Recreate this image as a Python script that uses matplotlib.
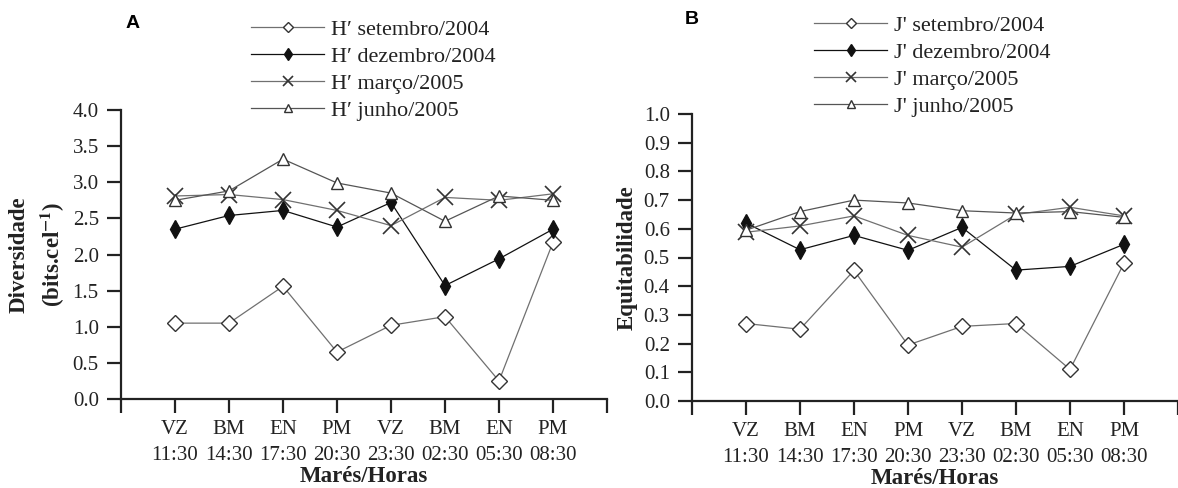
import matplotlib
matplotlib.use("Agg")
import matplotlib.pyplot as plt

plt.rcParams['font.family'] = ['Liberation Serif', 'DejaVu Serif']
plt.rcParams['mathtext.fontset'] = 'stix'

# x categories (tide / hour)
labels = ['VZ\n11:30', 'BM\n14:30', 'EN\n17:30', 'PM\n20:30',
          'VZ\n23:30', 'BM\n02:30', 'EN\n05:30', 'PM\n08:30']

# A - diversity H'
h_set = [1.05, 1.05, 1.56, 0.65, 1.02, 1.14, 0.25, 2.17]
h_dez = [2.35, 2.54, 2.61, 2.38, 2.72, 1.57, 1.94, 2.35]
h_mar = [2.81, 2.83, 2.76, 2.61, 2.40, 2.79, 2.75, 2.84]
h_jun = [2.75, 2.88, 3.32, 2.99, 2.85, 2.46, 2.81, 2.75]

# B - evenness J'
j_set = [0.27, 0.25, 0.455, 0.195, 0.26, 0.27, 0.11, 0.48]
j_dez = [0.62, 0.527, 0.577, 0.525, 0.605, 0.456, 0.469, 0.546]
j_mar = [0.588, 0.61, 0.645, 0.577, 0.536, 0.65, 0.675, 0.645]
j_jun = [0.595, 0.66, 0.70, 0.69, 0.663, 0.655, 0.66, 0.64]

W, H = 1178, 488
fig = plt.figure(figsize=(W / 100, H / 100), dpi=100)

def px_axes(left, right, bottom, top):
    return fig.add_axes([left / W, 1 - bottom / H, (right - left) / W, (bottom - top) / H])

axA = px_axes(121, 607, 399, 110)
axB = px_axes(692, 1178, 401, 114)

TXT = '#222222'
FS_TICK = 15
FS_LEG = 16
FS_LAB = 16.5
styles = [
    dict(marker='D', ms=8, mfc='white', mec='#333333', color='#707070', mew=1.0),
    dict(marker='d', ms=9, mfc='#111111', mec='#111111', color='#111111', mew=1.0),
    dict(marker='x', ms=11, mec='#333333', color='#707070', mew=1.2),
    dict(marker='^', ms=9, mfc='white', mec='#333333', color='#555555', mew=1.0),
]

def draw(ax, series, names, ylim, yticks, ylabel, leg_xy, letter, letter_xy):
    xs = list(range(1, len(labels) + 1))
    handles = []
    for vals, st, nm in zip(series, styles, names):
        h, = ax.plot(xs, vals, lw=0.9, label=nm, **st)
        handles.append(h)
    ax.set_xlim(0, 9)
    ax.set_ylim(*ylim)
    ax.set_yticks(yticks)
    ax.set_yticklabels([f'{v:.1f}' for v in yticks])
    ax.set_xticks(range(0, 10))
    ax.set_xticklabels([''] + labels + [''], linespacing=1.5)
    for s in ['top', 'right']:
        ax.spines[s].set_visible(False)
    for s in ['left', 'bottom']:
        ax.spines[s].set_linewidth(1.6)
        ax.spines[s].set_color('#222222')
    ax.tick_params(axis='y', direction='out', length=10, width=1.6, color='#222222',
                   labelsize=FS_TICK, labelcolor=TXT, pad=6)
    ax.tick_params(axis='x', direction='out', length=10, width=1.6, color='#222222',
                   labelsize=FS_TICK, labelcolor=TXT, pad=5)
    ax.set_xlabel('Marés/Horas', fontsize=FS_LAB, fontweight='bold', color=TXT, labelpad=1)
    ax.set_ylabel(ylabel, fontsize=FS_LAB, fontweight='bold', color=TXT, labelpad=4,
                  linespacing=1.45)
    ax.patch.set_alpha(0)
    leg = fig.legend(handles=handles, loc='upper left',
                     bbox_to_anchor=(leg_xy[0] / W, 1 - leg_xy[1] / H),
                     frameon=False, fontsize=FS_LEG, handlelength=3.3, handletextpad=0.3,
                     labelspacing=0.29, borderpad=0, borderaxespad=0, markerscale=0.7)
    for t in leg.get_texts():
        t.set_color(TXT)
    fig.text(letter_xy[0] / W, 1 - letter_xy[1] / H, letter, fontsize=14,
             fontweight='bold', family='Liberation Sans', ha='center', va='center')

draw(axA, [h_set, h_dez, h_mar, h_jun],
     ['H′ setembro/2004', 'H′ dezembro/2004', 'H′ março/2005', 'H′ junho/2005'],
     (0, 4.0), [i * 0.5 for i in range(9)],
     'Diversidade\n(bits.cel$^{\\mathbf{-1}}$)', (251, 19), 'A', (133, 24))
draw(axB, [j_set, j_dez, j_mar, j_jun],
     ["J' setembro/2004", "J' dezembro/2004", "J' março/2005", "J' junho/2005"],
     (0, 1.0), [i * 0.1 for i in range(11)],
     'Equitabilidade', (814, 15), 'B', (692, 19))

fig.savefig('out.png', dpi=100)
